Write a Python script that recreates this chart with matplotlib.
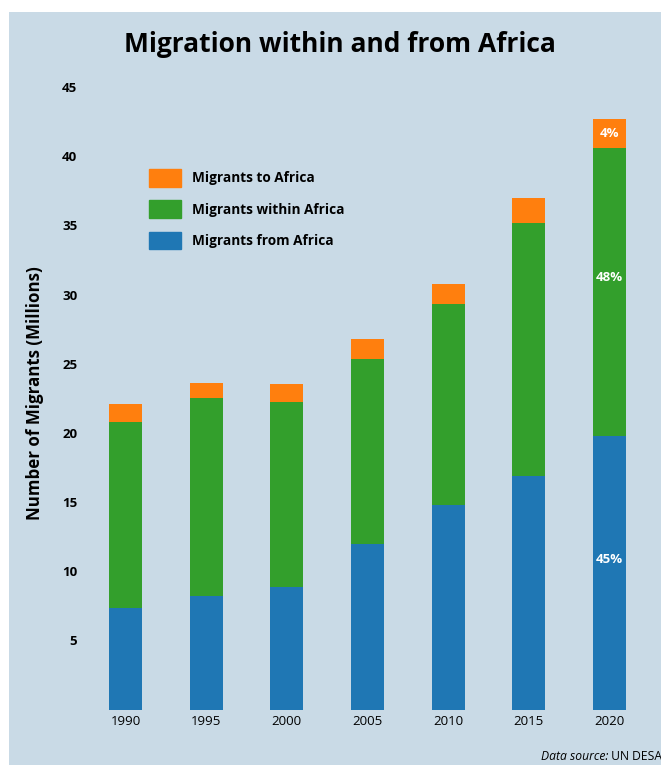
import matplotlib
matplotlib.use('Agg')
import matplotlib.pyplot as plt
from matplotlib.patches import Rectangle, Patch
import numpy as np

plt.rcParams['font.family'] = ['Open Sans', 'DejaVu Sans']

years = ['1990', '1995', '2000', '2005', '2010', '2015', '2020']
from_africa = [7.34, 8.23, 8.86, 11.95, 14.77, 16.91, 19.78]
within_africa = [13.43, 14.29, 13.40, 13.37, 14.53, 18.25, 20.84]
to_africa = [1.30, 1.07, 1.25, 1.45, 1.49, 1.80, 2.08]
pct_2020 = ['45%', '48%', '4%']

bg = '#c9dae6'
c_from = '#1f77b4'
c_within = '#339f2c'
c_to = '#ff7f0e'

W, H = 661, 765
fig = plt.figure(figsize=(W / 100, H / 100), dpi=100, facecolor='white')
fig.patches.append(Rectangle((9 / W, 0), 1, (H - 12) / H, transform=fig.transFigure,
                             facecolor=bg, edgecolor='none', zorder=-10))

ax = fig.add_axes([77.3 / W, (H - 709.5) / H, 580.3 / W, 636.2 / H])
ax.set_facecolor('none')

x = np.arange(len(years))
f = np.array(from_africa)
w = np.array(within_africa)
t = np.array(to_africa)
bw = 0.41
ax.bar(x, f, bw, color=c_from, label='Migrants from Africa')
ax.bar(x, w, bw, bottom=f, color=c_within, label='Migrants within Africa')
ax.bar(x, t, bw, bottom=f + w, color=c_to, label='Migrants to Africa')

# percentage labels on the last bar
last = len(years) - 1
bottoms = [0, f[last], f[last] + w[last]]
heights = [f[last], w[last], t[last]]
for lab, b, h in zip(pct_2020, bottoms, heights):
    frac = 0.5 if h < 5 else 0.55
    ax.text(x[last], b + h * frac, lab, color='white', fontsize=9.5, fontweight='bold',
            ha='center', va='center')

ax.set_xlim(-0.6, len(years) - 0.4)
ax.set_ylim(0, 46)
ax.set_xticks(x)
ax.set_xticklabels(years)
ax.set_yticks([5, 10, 15, 20, 25, 30, 35, 40, 45])
ax.tick_params(axis='both', length=0)
ax.tick_params(axis='y', pad=0, labelsize=9.5)
ax.tick_params(axis='x', pad=4, labelsize=9.5)
for lbl in ax.get_yticklabels():
    lbl.set_fontweight('bold')
for s in ax.spines.values():
    s.set_visible(False)

ax.set_ylabel('Number of Migrants (Millions)', fontsize=12.2, fontweight='bold')
ax.yaxis.set_label_coords(-0.058, 0.497)

handles = [Patch(color=c_to), Patch(color=c_within), Patch(color=c_from)]
labels = ['Migrants to Africa', 'Migrants within Africa', 'Migrants from Africa']
leg = ax.legend(handles, labels, loc='upper left', bbox_to_anchor=(0.115, 0.858),
                frameon=False, handlelength=2.35, handleheight=1.6, labelspacing=1.02,
                handletextpad=0.75, borderaxespad=0,
                prop={'size': 9.8, 'weight': 'bold'})

fig.text(340 / W, 1 - 44 / H, 'Migration within and from Africa', ha='center', va='center',
         fontsize=19, fontweight='bold')

ds = fig.text(541 / W, 1 - 757 / H, 'Data source:', ha='left', va='center',
              fontsize=8.7, style='italic')
src = fig.text(0, 1 - 757 / H, ' UN DESA', fontsize=8.7, va='center', ha='left')
fig.canvas.draw()
bb = ds.get_window_extent()
src.set_position((bb.x1 / W, 1 - 757 / H))

fig.savefig('out.png', dpi=100, facecolor='white')
